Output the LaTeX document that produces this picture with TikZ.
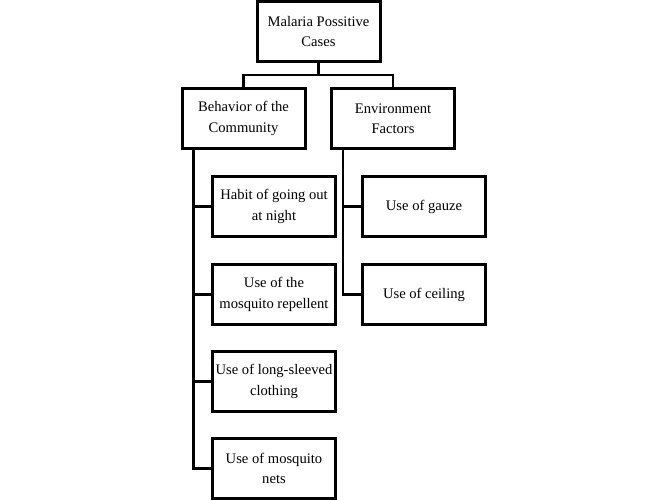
\documentclass[tikz,border=0pt]{standalone}
\usepackage{fontspec}
\setmainfont{Liberation Serif}
\usetikzlibrary{positioning}

\begin{document}
\begin{tikzpicture}[x=1pt,y=-1pt,
  box/.style={draw,line width=3pt,minimum width=123pt,minimum height=60pt,
    align=center,inner sep=1pt,font=\fontsize{14.6}{20.5}\selectfont},
  link/.style={line width=2.5pt}]

\useasboundingbox (0,0) rectangle (667,500);

% root
\node[box] (root) at (318.5,31.5) {Malaria Possitive\\Cases};

% two groups
\node[box] (beh) at (243.5,118.5) {Behavior of the\\Community};
\node[box] (env) at (393,118.5) {Environment\\Factors};

% behavior items
\node[box] (habit) at (274,206.5) {Habit of going out\\at night};
\node[box] (repel) at (274,294.5) {Use of the\\mosquito repellent};
\node[box] (sleeve) at (274,381.5) {Use of long-sleeved\\clothing};
\node[box] (nets) at (274,468.5) {Use of mosquito\\nets};

% environment items
\node[box] (gauze) at (424,206.5) {Use of gauze};
\node[box] (ceil) at (424,294.5) {Use of ceiling};

% root to groups
\draw[link] (beh.north) -- ++(0,-12) coordinate (jn) -| (env.north);
\draw[link] (root.south) -- (root.south |- jn);

% behavior branch
\coordinate (bt) at ([xshift=13pt]beh.south west);
\draw[link] (bt) |- (nets.west);
\draw[link] (bt |- habit.west) -- (habit.west);
\draw[link] (bt |- repel.west) -- (repel.west);
\draw[link] (bt |- sleeve.west) -- (sleeve.west);

% environment branch
\coordinate (et) at ([xshift=13pt]env.south west);
\draw[link] (et) |- (ceil.west);
\draw[link] (et |- gauze.west) -- (gauze.west);

\end{tikzpicture}
\end{document}
